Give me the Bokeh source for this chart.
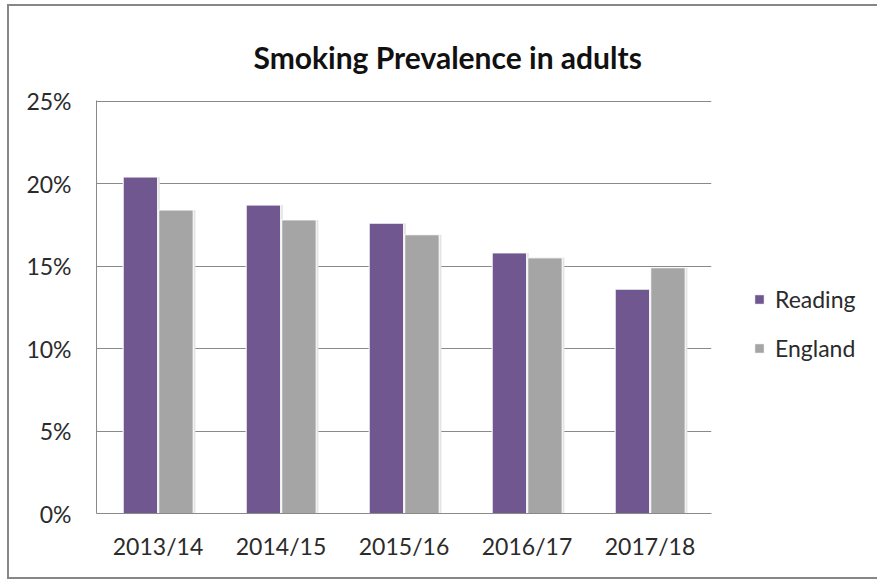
from bokeh.plotting import figure
from bokeh.models import (FactorRange, ColumnDataSource, Legend, LegendItem,
                          PrintfTickFormatter, FixedTicker, Range1d)
from bokeh.transform import dodge
from bokeh.embed import file_html
from bokeh.resources import INLINE

years = ["2013/14", "2014/15", "2015/16", "2016/17", "2017/18"]
reading = [20.4, 18.7, 17.6, 15.8, 13.6]
england = [18.4, 17.8, 16.9, 15.5, 14.9]
y_ticks = [0, 5, 10, 15, 20, 25]

FONT = "Lato"
TXT = "#2b2b2b"
PURPLE = "#705790"
GREY = "#a5a5a5"
BORDER = "2px solid #878787"

src = ColumnDataSource(dict(year=years, reading=reading, england=england))

p = figure(frame_width=615, frame_height=413,
           x_range=FactorRange(factors=years, range_padding=0),
           y_range=Range1d(0, 25.04), output_backend="svg", toolbar_location=None,
           min_border_left=87, min_border_right=166, min_border_top=94, min_border_bottom=64)
p.styles = {"box-sizing": "content-box", "margin-left": "7px", "margin-top": "4px",
            "border-left": BORDER, "border-top": BORDER, "border-bottom": BORDER}

p.title.text = "Smoking Prevalence in adults"
p.title.text_font = FONT
p.title.text_font_style = "bold"
p.title.text_font_size = "30px"
p.title.text_color = "#111111"
p.title.align = "left"
p.title.offset = 157
p.title.standoff = 52

p.outline_line_color = None
p.background_fill_color = "white"
p.border_fill_color = "white"

p.xgrid.grid_line_color = None
p.ygrid.grid_line_color = "#8a8a8a"
p.ygrid.grid_line_width = 1

p.yaxis.ticker = FixedTicker(ticks=y_ticks)
p.yaxis.formatter = PrintfTickFormatter(format="%d%%")
for ax in (p.xaxis[0], p.yaxis[0]):
    ax.major_tick_line_color = None
    ax.minor_tick_line_color = None
    ax.axis_line_color = "#8a8a8a"
    ax.major_label_text_font = FONT
    ax.major_label_text_font_size = "23px"
    ax.major_label_text_color = TXT
p.yaxis.major_label_standoff = 19
p.xaxis.major_label_standoff = 12

# soft shadows
p.vbar(x=dodge("year", -0.135, range=p.x_range), top="reading", width=0.30, source=src,
       fill_color="#e4e4e4", line_color=None)
p.vbar(x=dodge("year", 0.154, range=p.x_range), top="england", width=0.30, source=src,
       fill_color="#e4e4e4", line_color=None)

r1 = p.vbar(x=dodge("year", -0.143, range=p.x_range), top="reading", width=0.28, source=src,
            fill_color=PURPLE, line_color="white", line_width=1)
r2 = p.vbar(x=dodge("year", 0.146, range=p.x_range), top="england", width=0.28, source=src,
            fill_color=GREY, line_color="white", line_width=1)

legend = Legend(items=[LegendItem(label="Reading", renderers=[r1]),
                       LegendItem(label="England", renderers=[r2])],
                location=(42, 151), glyph_width=12, glyph_height=12, label_standoff=10,
                label_height=22, spacing=21, padding=0, margin=0,
                label_text_font=FONT, label_text_font_size="23px", label_text_color=TXT,
                border_line_color=None, background_fill_alpha=0)
p.add_layout(legend, "right")

open("out.html", "w").write(file_html(p, INLINE))
